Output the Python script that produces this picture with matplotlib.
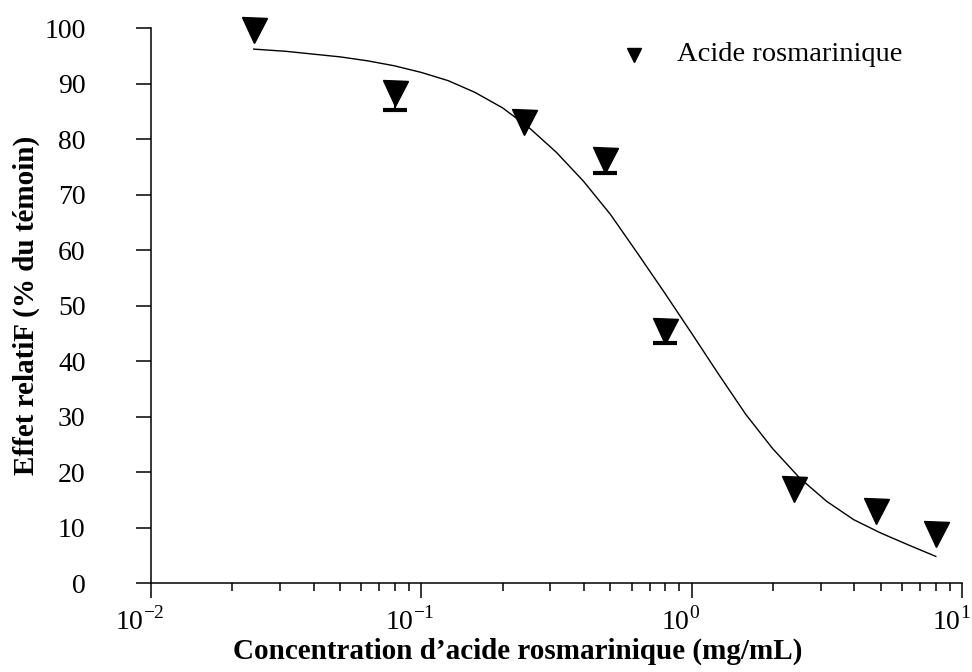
import numpy as np
import matplotlib
matplotlib.use('Agg')
import matplotlib.pyplot as plt
from matplotlib.ticker import FixedLocator, LogLocator, NullFormatter
from matplotlib.transforms import ScaledTranslation

plt.rcParams['font.family'] = ['Liberation Serif', 'DejaVu Serif']
plt.rcParams['mathtext.fontset'] = 'custom'
plt.rcParams['mathtext.rm'] = 'Liberation Serif'

# measured points (mean, lower error only visible)
conc = [0.024, 0.08, 0.24, 0.48, 0.8, 2.4, 4.8, 8.0]
effet = [99.6, 88.3, 83.0, 76.3, 45.4, 16.9, 13.0, 8.8]
err_low = [0.0, 3.1, 0.0, 2.4, 2.2, 0.0, 0.0, 0.0]

# fitted curve
fit_x = [0.024, 0.0316, 0.0398, 0.0501, 0.0631, 0.0794, 0.1, 0.126,
         0.158, 0.2, 0.251, 0.316, 0.398, 0.501, 0.631, 0.794, 1.0,
         1.259, 1.585, 1.995, 2.512, 3.162, 3.981, 5.012, 6.31, 8.0]
fit_y = [96.2, 95.8, 95.3, 94.8, 94.1, 93.2, 92.0, 90.5,
         88.4, 85.6, 82.0, 77.6, 72.4, 66.4, 59.4, 52.3, 45.0,
         37.6, 30.4, 24.2, 18.9, 14.7, 11.4, 9.0, 6.9, 4.8]

fig = plt.figure(figsize=(9.72, 6.72), dpi=100)
ax = fig.add_axes([0.1553, 0.1324, 0.8344, 0.8259])

ax.plot(fit_x, fit_y, color='black', lw=1.0, zorder=2)

# lower error bars
c = np.array(conc)
m = np.array(effet)
e = np.array(err_low)
has = e > 0
ax.vlines(c[has], m[has] - e[has], m[has], color='black', lw=1.5, zorder=3)
ax.plot(c[has], m[has] - e[has], '_', color='black', ms=17, mew=3.0, zorder=3)
ax.plot(conc, effet, 'v', color='black', ms=18, zorder=4, clip_on=False)

# legend drawn by hand
ax.plot([0.61], [95.2], 'v', color='black', ms=10, clip_on=False)
ax.text(0.88, 95.2, 'Acide rosmarinique', fontsize=20.5, va='center', ha='left')

ax.set_xscale('log')
ax.set_xlim(0.01, 10)
ax.set_ylim(0, 100)

ax.spines['top'].set_visible(False)
ax.spines['right'].set_visible(False)
ax.spines['left'].set_linewidth(1.1)
ax.spines['bottom'].set_linewidth(1.1)

ax.xaxis.set_major_locator(FixedLocator([0.01, 0.1, 1, 10]))
ax.set_xticklabels([r'$10^{-2}$', r'$10^{-1}$', r'$10^{0}$', r'$10^{1}$'])
ax.xaxis.set_minor_locator(LogLocator(base=10, subs=np.arange(2, 10)))
ax.xaxis.set_minor_formatter(NullFormatter())
ax.set_yticks(range(0, 101, 10))

ax.tick_params(axis='x', which='major', direction='out', length=11, width=1.1,
               labelsize=20, pad=6)
ax.tick_params(axis='x', which='minor', direction='out', length=6, width=1.1)
ax.tick_params(axis='y', direction='out', length=11, width=1.1,
               labelsize=20, pad=36)

shift = ScaledTranslation(-0.11, 0, fig.dpi_scale_trans)
for lab in ax.get_xticklabels():
    lab.set_transform(lab.get_transform() + shift)

ax.set_xlabel('Concentration d\u2019acide rosmarinique (mg/mL)',
              fontsize=21, fontweight='bold')
ax.xaxis.set_label_coords(0.4525, -0.098)
ax.set_ylabel('Effet relatiF (% du t\u00e9moin)', fontsize=21, fontweight='bold')
ax.yaxis.set_label_coords(-0.137, 0.5)

fig.savefig('out.png', dpi=100)
